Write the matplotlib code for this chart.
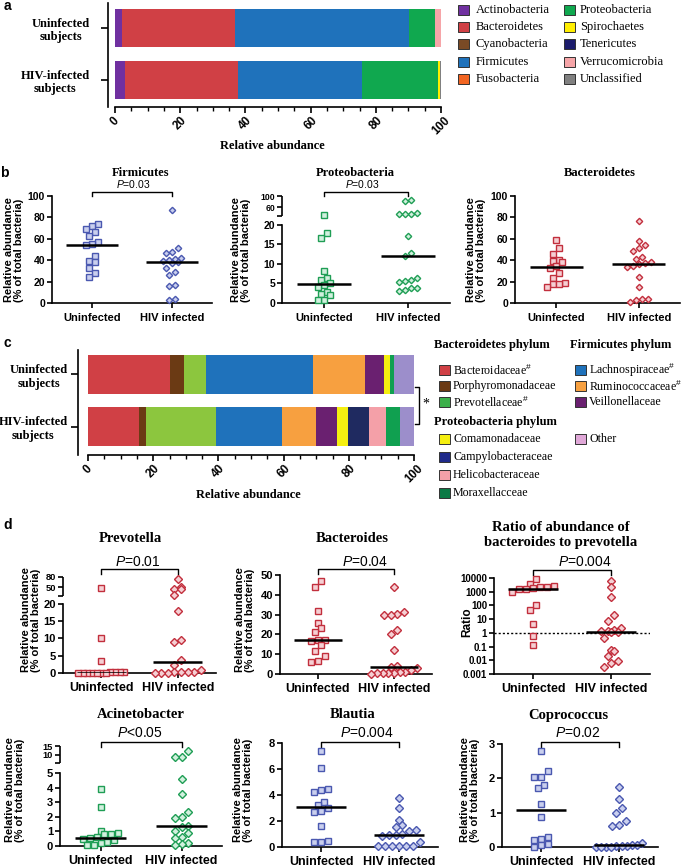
import numpy as np
import matplotlib
matplotlib.use('Agg')
import matplotlib.pyplot as plt
from matplotlib.patches import Rectangle
from matplotlib.lines import Line2D
from matplotlib.ticker import NullLocator
from matplotlib.transforms import blended_transform_factory as blend

W, H = 685, 867
SERIF = ['Liberation Serif', 'DejaVu Serif']
SANS = ['Liberation Sans', 'DejaVu Sans']
plt.rcParams['font.family'] = SANS
plt.rcParams['mathtext.fontset'] = 'custom'
plt.rcParams['mathtext.rm'] = 'Liberation Sans'
plt.rcParams['mathtext.it'] = 'Liberation Sans:italic'
plt.rcParams['mathtext.bf'] = 'Liberation Sans:bold'
plt.rcParams['axes.linewidth'] = 1.2

# ---------------- data ----------------
groups = ['Uninfected', 'HIV infected']
bar_rows = ['Uninfected\nsubjects', 'HIV-infected\nsubjects']

phyla = ['Actinobacteria', 'Bacteroidetes', 'Cyanobacteria', 'Firmicutes', 'Fusobacteria',
         'Proteobacteria', 'Spirochaetes', 'Tenericutes', 'Verrucomicrobia', 'Unclassified']
phyla_uninf = [2.0, 34.7, 0.0, 53.4, 0.2, 7.8, 0.0, 0.0, 1.9, 0.0]
phyla_hiv = [3.0, 34.6, 0.0, 38.3, 0.0, 23.3, 0.5, 0.0, 0.0, 0.3]
phyla_colors = ['#7030a0', '#d04045', '#7a4a25', '#1f72bb', '#f26522',
                '#10a84f', '#ffee00', '#1c1c6c', '#f6a5a8', '#808080']

families = ['Bacteroidaceae', 'Porphyromonadaceae', 'Prevotellaceae', 'Lachnospiraceae',
            'Ruminococcaceae', 'Veillonellaceae', 'Comamonadaceae', 'Campylobacteraceae',
            'Helicobacteraceae', 'Moraxellacceae', 'Other']
fam_hash = [True, False, True, True, True, False, False, False, False, False, False]
fam_uninf = [25.3, 4.0, 6.8, 32.9, 16.1, 5.8, 1.7, 0.0, 0.0, 1.3, 6.1]
fam_hiv = [15.6, 2.2, 21.5, 20.2, 10.5, 6.4, 3.4, 6.3, 5.4, 4.3, 4.2]
fam_colors = ['#d04045', '#6b3a14', '#8cc63e', '#1f72bb', '#f7a040', '#6a2070',
              '#f5ef10', '#1f2a60', '#f4a0a8', '#10a050', '#9c8ecb']
fam_legend_colors = ['#d04045', '#6b3a14', '#3cb04a', '#1f72bb', '#f7a040', '#6a2070',
                     '#f5ef10', '#1f2a8a', '#f4a0a8', '#0a7a45', '#e0a8d8']

firm_uninf = [74, 72, 69, 66, 63, 57, 55, 54, 44, 39, 38, 33, 28, 24]
firm_hiv = [87, 51, 48, 47, 42, 41, 40, 39, 38, 37, 33, 29, 26, 17, 16, 4, 3]
proteo_uninf = [30, 17.9, 16.6, 8.3, 6.4, 5.8, 5.2, 4.5, 4.0, 2.9, 2.3, 2.1, 0.8, 0.7]
proteo_hiv = [85, 82, 38, 37, 36, 36, 17.3, 12.7, 12.0, 6.5, 5.9, 5.7, 5.5, 3.8, 3.8, 3.4, 3.1]
bactd_uninf = [59, 51, 46, 40, 39, 38, 35, 33, 28, 23, 19, 18, 18, 15]
bactd_hiv = [77, 58, 54, 51, 49, 43, 41, 38, 37, 36, 35, 34, 24.5, 15, 4, 3.7, 3, 0.5]

prev_uninf = [48, 10.2, 3.5, 0.3, 0.25, 0.2, 0.15, 0.1, 0.1, 0.05, 0.05, 0.02, 0.01, 0.0]
prev_hiv = [75, 50, 47, 45, 28, 18, 9.5, 8.9, 3.8, 2.4, 0.9, 0.4, 0.3, 0.2, 0.15, 0.1, 0.05, 0.0]
bacs_uninf = [47, 44, 32, 26, 23, 21, 17.3, 17, 16.6, 14.4, 11.4, 8.9, 6.4, 5.9]
bacs_hiv = [44, 31.5, 30.5, 30, 30, 22, 20, 12, 4, 3.5, 3, 1.8, 1.2, 0.8, 0.6, 0.5, 0.4, 0.3, 0.2]
ratio_uninf = [8500, 3700, 2800, 2300, 2100, 1800, 1700, 1600, 1000, 100, 48, 4.5, 0.6, 0.13]
ratio_hiv = [6400, 2200, 440, 21, 7.7, 2.2, 1.6, 1.4, 1.3, 1.2, 1.1, 0.42, 0.06, 0.045,
             0.019, 0.009, 0.0066, 0.0035]
acin_uninf = [3.9, 2.7, 1.0, 0.9, 0.85, 0.8, 0.6, 0.55, 0.5, 0.4, 0.3, 0.2, 0.1, 0.05]
acin_hiv = [12, 9, 8.8, 4.6, 3.55, 2.3, 2.0, 1.95, 1.35, 1.3, 1.0, 0.9, 0.6, 0.55, 0.2, 0.15, 0.1]
blau_uninf = [7.35, 6.1, 4.5, 4.4, 4.2, 3.5, 3.2, 3.0, 2.75, 2.7, 1.6, 0.5, 0.4, 0.35]
blau_hiv = [3.8, 3.0, 2.1, 1.7, 1.55, 1.3, 1.25, 1.0, 0.95, 0.9, 0.85, 0.4, 0.1, 0.1, 0.1,
            0.05, 0.05, 0.05]
copro_uninf = [2.8, 2.2, 2.05, 2.05, 1.8, 1.72, 1.25, 0.88, 0.3, 0.23, 0.2, 0.1, 0.05, 0.0]
copro_hiv = [1.75, 1.4, 1.15, 1.0, 0.75, 0.63, 0.6, 0.12, 0.07, 0.05, 0.03, 0.02, 0.02,
             0.01, 0.01, 0.0, 0.0]

ratio_ticks = [0.001, 0.01, 0.1, 1, 10, 100, 1000, 10000]
ratio_ticklabels = ['0.001', '0.01', '0.1', '1', '10', '100', '1000', '10000']

BLUE = ('#4a58b0', '#c9cfee')
GREEN = ('#1f9e55', '#d2f0de')
RED = ('#c22f3d', '#f5cfd3')

# ---------------- helpers ----------------
fig = plt.figure(figsize=(W / 100, H / 100), dpi=100)


def add_ax(l, t, r, b):
    return fig.add_axes([l / W, 1 - b / H, (r - l) / W, (b - t) / H])


def ftext(x, y, s, **kw):
    kw.setdefault('ha', 'center')
    kw.setdefault('va', 'center')
    return fig.text(x / W, 1 - y / H, s, **kw)


def fline(xs, ys, **kw):
    fig.add_artist(Line2D([x / W for x in xs], [1 - y / H for y in ys],
                          transform=fig.transFigure, **kw))


def piecewise(xp, fp):
    xp = np.asarray(xp, float)
    fp = np.asarray(fp, float)

    def make(a, b):
        def f(v):
            v = np.asarray(v, float)
            out = np.interp(v, a, b)
            out = np.where(v < a[0], b[0] + (v - a[0]) * (b[1] - b[0]) / (a[1] - a[0]), out)
            out = np.where(v > a[-1], b[-1] + (v - a[-1]) * (b[-1] - b[-2]) / (a[-1] - a[-2]), out)
            return out
        return f
    return make(xp, fp), make(fp, xp)


def swarm(ax, xc, vals, msize_px, step_px, max_half_px):
    vals = np.asarray(vals, float)
    pts = ax.transData.transform(np.column_stack([np.full(len(vals), xc), vals]))
    ypx = pts[:, 1]
    order = np.argsort(ypx, kind='stable')
    off = np.zeros(len(vals))
    groups_ = []
    cur = [order[0]]
    for i in order[1:]:
        if ypx[i] - ypx[cur[0]] < msize_px:
            cur.append(i)
        else:
            groups_.append(cur)
            cur = [i]
    groups_.append(cur)
    for g in groups_:
        n = len(g)
        st = step_px if n < 2 else min(step_px, 2 * max_half_px / (n - 1))
        for k, i in enumerate(g):
            off[i] = (k - (n - 1) / 2) * st
    return ax.transData.inverted().transform(np.column_stack([pts[:, 0] + off, ypx]))[:, 0]


def dot_panel(box, vals_u, vals_h, colors, ylim, yticks, yticklabels=None, scale=None,
              brk=None, minor=None, small_ticks=(), tick_fs=8, x_fs=9, ms=4.3, xpad=3,
              title=None, title_xy=None, title_fs=10.5,
              ptxt=None, p_xy=None, p_fs=10, bracket_y=None,
              ylabel='Relative abundance\n(% of total bacteria)', ylabel_xy=None, ylabel_fs=8):
    l, t, r, b = box
    ax = add_ax(l, t, r, b)
    if scale == 'log':
        ax.set_yscale('log')
    elif brk is not None:
        fwd, inv = piecewise(*brk)
        ax.set_yscale('function', functions=(fwd, inv))
    ax.set_xlim(0.5, 2.5)
    ax.set_ylim(*ylim)
    for side in ('top', 'right'):
        ax.spines[side].set_visible(False)
    ax.set_xticks([1, 2])
    ax.set_xticklabels(groups, fontsize=x_fs, fontweight='bold')
    ax.set_yticks(yticks)
    ax.set_yticklabels(yticklabels if yticklabels else [f'{v:g}' for v in yticks],
                       fontsize=tick_fs, fontweight='bold')
    for i in small_ticks:
        ax.get_yticklabels()[i].set_fontsize(tick_fs - 1.3)
    ax.yaxis.set_minor_locator(NullLocator())
    if minor:
        ax.set_yticks(minor, minor=True)
    ax.tick_params(axis='both', which='both', direction='out', length=3.5, width=1.2, pad=1.5)
    ax.tick_params(axis='x', pad=xpad)
    if brk is not None:
        xp = brk[0]
        ax.spines['left'].set_bounds(xp[0], xp[1])
        ax.plot([0, 0], [xp[2], xp[3]], transform=blend(ax.transAxes, ax.transData),
                color='k', lw=1.2, clip_on=False, solid_capstyle='butt')
    edge, face = colors
    ms_px = ms / 72 * 100
    unit_px = (r - l) / 2.0
    for xc, vals, mk, m in [(1, vals_u, 's', ms), (2, vals_h, 'D', ms * 0.85)]:
        xs = swarm(ax, xc, vals, ms_px * 1.05, ms_px * 1.15, 0.3 * unit_px)
        ax.plot(xs, vals, ls='none', marker=mk, ms=m, mec=edge, mfc=face, mew=1.0,
                clip_on=False, zorder=3)
        med = np.median(vals)
        ax.plot([xc - 0.32, xc + 0.32], [med, med], color='k', lw=1.8, zorder=4,
                solid_capstyle='butt')
    if title:
        ftext(*title_xy, title, family=SERIF, fontweight='bold', fontsize=title_fs,
              linespacing=1.15)
    if ptxt:
        ftext(*p_xy, '$P$' + ptxt[1:], fontsize=p_fs)
        tr = blend(ax.transData, fig.transFigure)
        yt = 1 - bracket_y[0] / H
        yb = 1 - bracket_y[1] / H
        ax.plot([1, 1, 2, 2], [yb, yt, yt, yb], transform=tr, color='k', lw=1.0,
                clip_on=False)
    if ylabel_xy:
        ftext(*ylabel_xy, ylabel, rotation=90, fontsize=ylabel_fs, fontweight='bold',
              linespacing=1.1)
    return ax


def bar_panel(box, vals_u, vals_h, colors, ylim, barh, spine_off, ypad, ylen):
    ax = add_ax(*box)
    lu = 0.0
    lh = 0.0
    for vu, vh, c in zip(vals_u, vals_h, colors):
        ax.barh([1, 0], [vu, vh], left=[lu, lh], height=barh, color=c, lw=0)
        lu += vu
        lh += vh
    ax.set_xlim(0, 100)
    ax.set_ylim(*ylim)
    for side in ('top', 'right'):
        ax.spines[side].set_visible(False)
    ax.spines['left'].set_position(('outward', spine_off))
    ax.set_yticks([1, 0])
    ax.set_yticklabels(bar_rows, family=SERIF, fontweight='bold', fontsize=9)
    for lab in ax.get_yticklabels():
        lab.set_multialignment('center')
    ax.set_xticks(range(0, 101, 20))
    ax.set_xticks(range(0, 101, 5), minor=True)
    ax.set_xticklabels([str(v) for v in range(0, 101, 20)], rotation=45, fontsize=8.5,
                       fontweight='bold', ha='center', va='top')
    ax.tick_params(axis='y', length=ylen, width=1.2, pad=ypad)
    ax.tick_params(axis='x', which='major', length=4, width=1.2, pad=1.5)
    ax.tick_params(axis='x', which='minor', length=3, width=1.0)
    return ax


def swatch(x0, yc, color, w=11, h=10):
    fig.add_artist(Rectangle((x0 / W, 1 - (yc + h / 2) / H), w / W, h / H,
                             transform=fig.transFigure, facecolor=color,
                             edgecolor='#333333', lw=0.7))


# ---------------- panel a ----------------
bar_panel((115, 3, 441, 107), phyla_uninf, phyla_hiv, phyla_colors, (-0.519, 1.481), 0.73,
          5, 8, 5)
ftext(272, 146, 'Relative abundance', family=SERIF, fontweight='bold', fontsize=9)
ftext(7, 6, 'a', fontweight='bold', fontsize=10)
rows_a = [10, 27, 44, 62, 79]
for i, (name, c) in enumerate(zip(phyla, phyla_colors)):
    col, row = divmod(i, 5)
    sx, tx = (458, 476) if col == 0 else (564, 580)
    swatch(sx, rows_a[row], c)
    ftext(tx, rows_a[row], name, family=SERIF, fontsize=9, ha='left')

# ---------------- panel b ----------------
ftext(4, 173, 'b', fontweight='bold', fontsize=10)
dot_panel((52, 196, 212, 303), firm_uninf, firm_hiv, BLUE, (0, 100), list(range(0, 101, 20)),
          tick_fs=7.5, x_fs=8, ms=3.8, xpad=4,
          title='Firmicutes', title_xy=(141, 173), title_fs=9,
          ptxt='P=0.03', p_xy=(133, 184), p_fs=7.5, bracket_y=(192, 196),
          ylabel_xy=(14, 250))
dot_panel((282, 196, 450, 303), proteo_uninf, proteo_hiv, GREEN, (0, 100),
          [0, 5, 10, 15, 20, 60, 100], brk=([0, 20, 28, 100], [0, 0.729, 0.813, 1]),
          minor=[28], small_ticks=(5, 6), tick_fs=7.5, x_fs=8, ms=3.8, xpad=4,
          title='Proteobacteria', title_xy=(355, 173), title_fs=9,
          ptxt='P=0.03', p_xy=(362, 184), p_fs=7.5, bracket_y=(192, 196),
          ylabel_xy=(241, 250))
dot_panel((515, 196, 680, 303), bactd_uninf, bactd_hiv, RED, (0, 100), list(range(0, 101, 20)),
          tick_fs=7.5, x_fs=8, ms=3.8, xpad=4,
          title='Bacteroidetes', title_xy=(600, 173), title_fs=9,
          ylabel_xy=(476, 250))

# ---------------- panel c ----------------
ftext(7, 343, 'c', fontweight='bold', fontsize=10)
bar_panel((88, 350, 414, 455), fam_uninf, fam_hiv, fam_colors, (-0.548, 1.471), 0.75,
          7, 2.5, 5)
ftext(248, 495, 'Relative abundance', family=SERIF, fontweight='bold', fontsize=9)
ftext(434, 345, 'Bacteroidetes phylum', family=SERIF, fontweight='bold', fontsize=9, ha='left')
ftext(570, 345, 'Firmicutes phylum', family=SERIF, fontweight='bold', fontsize=9, ha='left')
ftext(434, 422, 'Proteobacteria phylum', family=SERIF, fontweight='bold', fontsize=9, ha='left')
fam_pos = [(0, 370), (0, 386), (0, 402), (1, 370), (1, 386), (1, 402),
           (0, 439), (0, 457), (0, 475), (0, 493), (1, 439)]
for name, hsh, c, (col, y) in zip(families, fam_hash, fam_legend_colors, fam_pos):
    sx, tx = (439, 453) if col == 0 else (575, 589)
    swatch(sx, y, c)
    ftext(tx, y, name + ('$^{\\#}$' if hsh else ''), family=SERIF, fontsize=8.6, ha='left')
fline([415, 419, 419, 415], [387, 387, 424, 424], color='k', lw=1.0)
ftext(426, 404, '*', family=SERIF, fontsize=10)

# ---------------- panel d ----------------
ftext(8, 525, 'd', fontweight='bold', fontsize=10)
dot_panel((63, 577, 216, 673), prev_uninf, prev_hiv, RED, (0, 80),
          [0, 5, 10, 15, 20, 50, 80], brk=([0, 20, 25, 80], [0, 0.72, 0.80, 1]),
          minor=[25], small_ticks=(5, 6), title='Prevotella', title_xy=(130, 539),
          ptxt='P=0.01', p_xy=(138, 562), bracket_y=(569, 574), ylabel_xy=(31, 620))
dot_panel((280, 575, 432, 674), bacs_uninf, bacs_hiv, RED, (0, 50), list(range(0, 51, 10)),
          title='Bacteroides', title_xy=(352, 539),
          ptxt='P=0.04', p_xy=(365, 562), bracket_y=(569, 574), ylabel_xy=(245, 620))
axr = dot_panel((494, 578, 650, 674), ratio_uninf, ratio_hiv, RED, (0.001, 10000), ratio_ticks,
                yticklabels=ratio_ticklabels, scale='log', tick_fs=7,
                title='Ratio of abundance of\nbacteroides to prevotella', title_xy=(561, 535),
                ptxt='P=0.004', p_xy=(585, 562), bracket_y=(570, 575),
                ylabel='Ratio', ylabel_xy=(467, 622), ylabel_fs=8.5)
axr.axhline(1, color='k', lw=1.0, ls=(0, (1.5, 1.5)), zorder=2)

dot_panel((60, 746, 222, 846), acin_uninf, acin_hiv, GREEN, (0, 15),
          [0, 1, 2, 3, 4, 5, 10, 15], brk=([0, 5, 5.5, 15], [0, 0.73, 0.83, 1]),
          minor=[5.5], small_ticks=(6, 7), title='Acinetobacter', title_xy=(141, 715),
          ptxt='P<0.05', p_xy=(140, 733), bracket_y=(742, 747), ylabel_xy=(15, 790))
dot_panel((282, 743, 438, 847), blau_uninf, blau_hiv, BLUE, (0, 8), [0, 2, 4, 6, 8],
          title='Blautia', title_xy=(353, 715),
          ptxt='P=0.004', p_xy=(367, 733), bracket_y=(742, 747), ylabel_xy=(243, 790))
dot_panel((502, 744, 658, 847), copro_uninf, copro_hiv, BLUE, (0, 3), [0, 1, 2, 3],
          title='Coprococcus', title_xy=(568, 715),
          ptxt='P=0.02', p_xy=(578, 733), bracket_y=(742, 747), ylabel_xy=(470, 790))

fig.savefig('out.png', dpi=100)
